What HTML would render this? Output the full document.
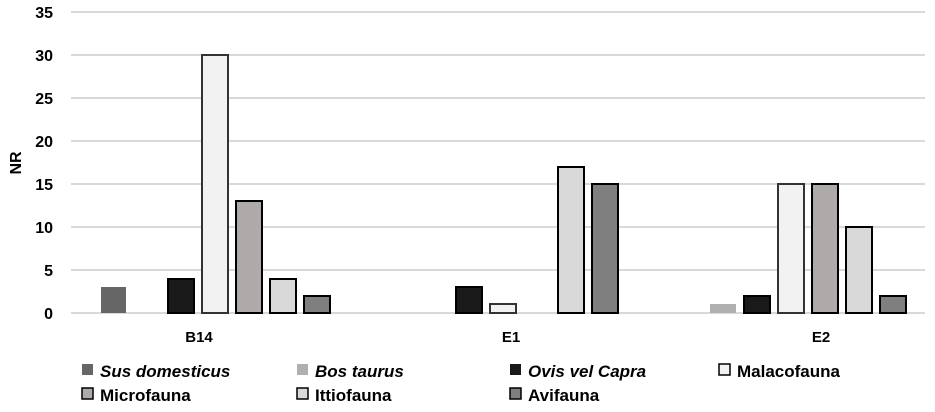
<!DOCTYPE html><html><head><style>body{margin:0;background:#fff}</style></head><body>
<svg width="935" height="407" xmlns="http://www.w3.org/2000/svg" font-family="Liberation Sans, sans-serif" font-weight="bold">
<g stroke="#d9d9d9" stroke-width="2">
<line x1="71" x2="925" y1="12" y2="12"/><line x1="71" x2="925" y1="55" y2="55"/><line x1="71" x2="925" y1="98" y2="98"/><line x1="71" x2="925" y1="141" y2="141"/><line x1="71" x2="925" y1="184" y2="184"/><line x1="71" x2="925" y1="227" y2="227"/><line x1="71" x2="925" y1="270" y2="270"/><line x1="71" x2="925" y1="313" y2="313"/>
</g>
<g font-size="16" fill="#000" text-anchor="end">
<text x="53" y="18">35</text><text x="53" y="61">30</text><text x="53" y="104">25</text><text x="53" y="147">20</text><text x="53" y="190">15</text><text x="53" y="233">10</text><text x="53" y="276">5</text><text x="53" y="319">0</text>
</g>
<text transform="translate(21,163) rotate(-90)" font-size="16" text-anchor="middle">NR</text>
<g stroke="#000" stroke-width="2">
<rect x="101" y="287" width="25" height="26" fill="#666" stroke="none"/>
<rect x="168" y="279" width="26" height="34" fill="#1a1a1a"/>
<rect x="202" y="55" width="26" height="258" fill="#f2f2f2" stroke="#333"/>
<rect x="236" y="201" width="26" height="112" fill="#aeaaaa"/>
<rect x="270" y="279" width="26" height="34" fill="#d9d9d9"/>
<rect x="304" y="296" width="26" height="17" fill="#7f7f7f"/>
<rect x="456" y="287" width="26" height="26" fill="#1a1a1a"/>
<rect x="490" y="304" width="26" height="9" fill="#f2f2f2" stroke="#333"/>
<rect x="558" y="167" width="26" height="146" fill="#d9d9d9"/>
<rect x="592" y="184" width="26" height="129" fill="#7f7f7f"/>
<rect x="710" y="304" width="26" height="9" fill="#b0b0b0" stroke="none"/>
<rect x="744" y="296" width="26" height="17" fill="#1a1a1a"/>
<rect x="778" y="184" width="26" height="129" fill="#f2f2f2" stroke="#333"/>
<rect x="812" y="184" width="26" height="129" fill="#aeaaaa"/>
<rect x="846" y="227" width="26" height="86" fill="#d9d9d9"/>
<rect x="880" y="296" width="26" height="17" fill="#7f7f7f"/>
</g>
<g font-size="15" text-anchor="middle">
<text x="199" y="342">B14</text><text x="511" y="342">E1</text><text x="821" y="342">E2</text>
</g>
<g font-size="17">
<rect x="82" y="364" width="11" height="11" fill="#666"/><text x="100" y="377" font-style="italic">Sus domesticus</text>
<rect x="297" y="364" width="11" height="11" fill="#b0b0b0"/><text x="315" y="377" font-style="italic">Bos taurus</text>
<rect x="510" y="364" width="11" height="11" fill="#1a1a1a"/><text x="528" y="377" font-style="italic">Ovis vel Capra</text>
<rect x="719" y="364" width="11" height="11" fill="#f2f2f2" stroke="#000" stroke-width="1.5"/><text x="737" y="377">Malacofauna</text>
<rect x="82" y="388" width="11" height="11" fill="#aeaaaa" stroke="#000" stroke-width="1.5"/><text x="100" y="401">Microfauna</text>
<rect x="297" y="388" width="11" height="11" fill="#d9d9d9" stroke="#000" stroke-width="1.5"/><text x="315" y="401">Ittiofauna</text>
<rect x="510" y="388" width="11" height="11" fill="#7f7f7f" stroke="#000" stroke-width="1.5"/><text x="528" y="401">Avifauna</text>
</g>
</svg>
</body></html>
